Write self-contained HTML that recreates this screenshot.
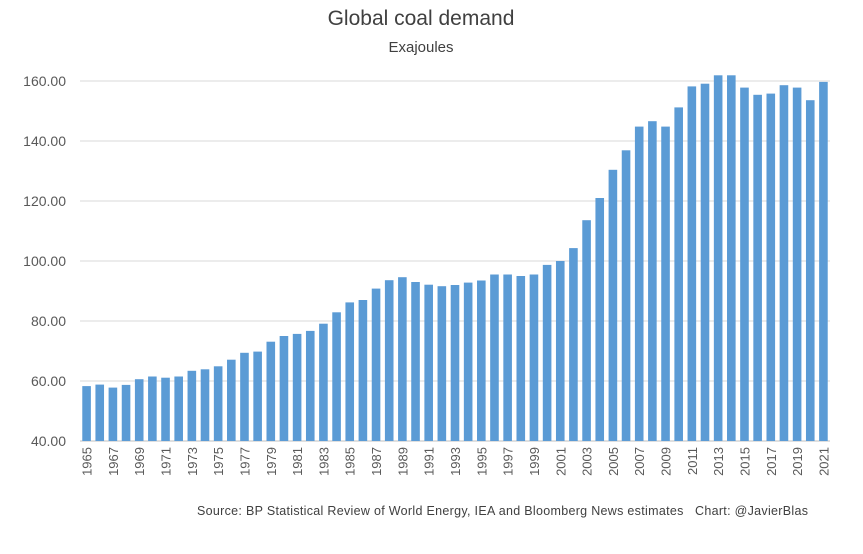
<!DOCTYPE html>
<html><head><meta charset="utf-8"><style>
body{margin:0;background:#fff;font-family:"Liberation Sans",sans-serif}
svg text{font-family:"Liberation Sans",sans-serif}
</style></head><body>
<svg id="c" width="863" height="549">
<text x="421" y="25" text-anchor="middle" font-size="21" fill="#404040">Global coal demand</text>
<text x="421" y="52" text-anchor="middle" font-size="15" fill="#404040">Exajoules</text>
<g id="grid"></g><g id="bars"></g><g id="xl"></g>
<text x="197" y="515" font-size="12.5" fill="#404040" textLength="611" lengthAdjust="spacing">Source: BP Statistical Review of World Energy, IEA and Bloomberg News estimates&#160;&#160;&#160;Chart: @JavierBlas</text>
</svg>
<script>
const years=[];for(let y=1965;y<=2021;y++)years.push(y);
const values=[58.3,58.8,57.8,58.7,60.6,61.5,61.1,61.5,63.4,63.9,64.9,67.1,69.4,69.8,73.1,75.0,75.7,76.7,79.1,82.9,86.2,87.0,90.8,93.6,94.6,93.0,92.1,91.6,92.0,92.8,93.5,95.5,95.5,95.0,95.5,98.7,100.0,104.3,113.6,121.0,130.4,136.9,144.8,146.6,144.8,151.2,158.2,159.1,161.9,161.9,157.8,155.4,155.8,158.6,157.8,153.6,159.7];
const yTicks=[40,60,80,100,120,140,160];
const NS="http://www.w3.org/2000/svg";
const x0=80,x1=830,slot=(x1-x0)/years.length,bw=8.6;
const yS=v=>441-(v-40)*3;
function mk(t,a,p){const e=document.createElementNS(NS,t);for(const k in a)e.setAttribute(k,a[k]);p.appendChild(e);return e;}
const g=document.getElementById('grid');
yTicks.forEach(t=>{
  const l=mk('line',{x1:x0,x2:x1,y1:yS(t),y2:yS(t),stroke:t===40?'#bfbfbf':'#d9d9d9','stroke-width':1},g);
  
  
  const tx=mk('text',{x:66,y:yS(t)+5,'text-anchor':'end','font-size':14,fill:'#595959'},g);
  tx.textContent=t.toFixed(2);
  
  
});
const b=document.getElementById('bars'),xl=document.getElementById('xl');
years.forEach((yr,i)=>{
  const cx=x0+slot*(i+0.5);
  const r=mk('rect',{x:cx-bw/2,y:yS(values[i]),width:bw,height:yS(40)-yS(values[i]),fill:'#5b9bd5'},b);
  
  
  if(i%2===0){
    const t=mk('text',{x:0,y:0,'text-anchor':'end','font-size':13,fill:'#595959',transform:`translate(${cx+5},447) rotate(-90)`},xl);
    t.textContent=yr;
    
    
  }
});
</script>
</body></html>
